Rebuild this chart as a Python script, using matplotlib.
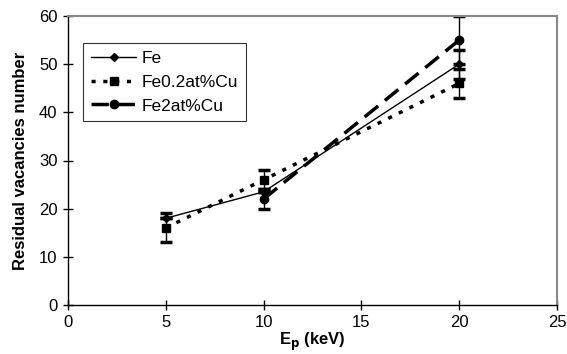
import numpy as np
import matplotlib
matplotlib.use("Agg")
import matplotlib.pyplot as plt
from matplotlib.lines import Line2D

plt.rcParams["font.family"] = ["Liberation Sans", "DejaVu Sans"]

# data
ep_fe = [5, 10, 20]
fe = [18, 23.5, 50]
fe_err = [0, 0, 3]

ep_fe02 = [5, 10, 20]
fe02 = [16, 26, 46]
fe02_err = [3, 2, 3]

ep_fe2 = [10, 20]
fe2 = [22, 55]
fe2_err = [2, 5]

labels = ["Fe", "Fe0.2at%Cu", "Fe2at%Cu"]

fig = plt.figure(figsize=(5.67, 3.54), dpi=100)
ax = fig.add_axes([68 / 567, 1 - 305 / 354, (557 - 68) / 567, (305 - 16) / 354])

styles = [
    dict(lw=1, ls="-", marker="D", ms=4),
    dict(lw=2.5, ls=(0, (1.2, 2.2)), marker="s", ms=6),
    dict(lw=2.5, ls=(0, (5, 2.5)), marker="o", ms=6),
]
series = [(ep_fe, fe, fe_err), (ep_fe02, fe02, fe02_err), (ep_fe2, fe2, fe2_err)]

handles = []
for (x, y, e), st in zip(series, styles):
    ax.errorbar(x, y, yerr=e, color="black", ecolor="black", elinewidth=1,
                capsize=4.5, capthick=2.5, **st)
    handles.append(Line2D([], [], color="black", **st))

ax.set_xlim(0, 25)
ax.set_ylim(0, 60)
ax.set_xticks(np.arange(0, 26, 5))
ax.set_yticks(np.arange(0, 61, 10))
ax.tick_params(direction="inout", length=7, width=1, labelsize=12, pad=4)
for s in ["top", "right"]:
    ax.spines[s].set_color("#888888")
    ax.spines[s].set_linewidth(1.5)
for s in ["left", "bottom"]:
    ax.spines[s].set_linewidth(1)

ax.set_xlabel(r"E$_\mathbf{p}$ (keV)", fontsize=12, fontweight="bold", labelpad=0)
ax.set_ylabel("Residual vacancies number", fontsize=12, fontweight="bold", labelpad=8)

leg = ax.legend(handles, labels, loc="upper left", bbox_to_anchor=(0.031, 0.907),
                borderaxespad=0, fontsize=12.5, frameon=True, fancybox=False,
                edgecolor="black", handlelength=2.6, borderpad=0.45,
                labelspacing=0.5, handletextpad=0.3)
leg.get_frame().set_linewidth(0.8)

fig.savefig("out.png", dpi=100)
